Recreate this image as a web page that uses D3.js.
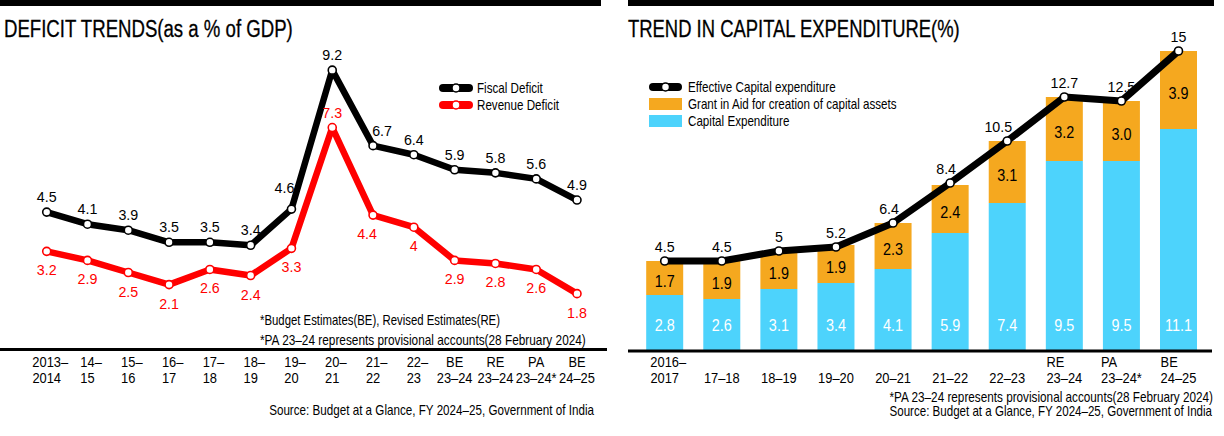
<!DOCTYPE html>
<html><head><meta charset="utf-8">
<script src="https://cdn.jsdelivr.net/npm/d3@7"></script>
<style>
body{margin:0;background:#fff}
svg{display:block}
text{font-family:'Liberation Sans',Arial,'DejaVu Sans',sans-serif}
</style>
</head><body>
<svg id="c" width="1224" height="436"></svg>
<script>
// ---------- DATA ----------
const deficitYears = ["2013–\n2014","14–\n15","15–\n16","16–\n17","17–\n18","18–\n19","19–\n20","20–\n21","21–\n22","22–\n23","BE\n23–24","RE\n23–24","PA\n23–24*","BE\n24–25"];
const fiscalDeficit  = [4.5,4.1,3.9,3.5,3.5,3.4,4.6,9.2,6.7,6.4,5.9,5.8,5.6,4.9];
const revenueDeficit = [3.2,2.9,2.5,2.1,2.6,2.4,3.3,7.3,4.4,4.0,2.9,2.8,2.6,1.8];

const capexYears = ["2016–\n2017","17–18","18–19","19–20","20–21","21–22","22–23","RE\n23–24","PA\n23–24*","BE\n24–25"];
const capitalExpenditure = [2.8,2.6,3.1,3.4,4.1,5.9,7.4,9.5,9.5,11.1];
const grantInAid         = [1.7,1.9,1.9,1.9,2.3,2.4,3.1,3.2,3.0,3.9];
const effectiveCapex     = [4.5,4.5,5,5.2,6.4,8.4,10.5,12.7,12.5,15];

const leftTitle = "DEFICIT TRENDS(as a % of GDP)";
const rightTitle = "TREND IN CAPITAL EXPENDITURE(%)";
const leftNotes = ["*Budget Estimates(BE), Revised Estimates(RE)","*PA 23–24 represents provisional accounts(28 February 2024)"];
const rightNote = "*PA 23–24 represents provisional accounts(28 February 2024)";
const sourceText = "Source: Budget at a Glance, FY 2024–25, Government of India";

// ---------- STYLE ----------
const RED = "#ff0000", ORANGE = "#f5a81f", BLUE = "#4dd3fc";
const svg = d3.select("#c");

// text helper: condensed look via horizontal scaling
function T(x, y, s, o = {}) {
  const g = svg.append("g");
  const t = g.append("text").attr("font-size", o.size ?? 15).attr("fill", o.fill ?? "#000")
    .attr("text-anchor", o.anchor ?? "start").attr("dy", o.dy ?? null).text(s);
  const nat = t.node().getComputedTextLength();
  const sx = o.width ? o.width / nat : (o.sx ?? 0.85);
  g.attr("transform", `translate(${x},${y}) scale(${sx},1)`);
  return { node: t, width: nat * sx };
}

// ---------- LEFT CHART ----------
const xL = d3.scalePoint().domain(deficitYears).range([46.7, 577]);
const yL = d3.scaleLinear().domain([0, 9.2]).range([348, 348 - 9.2*30.2]);

svg.append("rect").attr("x",0).attr("y",0).attr("width",601).attr("height",6).attr("fill","#000");
T(4, 37, leftTitle, {size:23, width:289}).node.attr("stroke","#000").attr("stroke-width",0.3);

svg.append("line").attr("x1",0).attr("x2",607).attr("y1",349.5).attr("y2",349.5).attr("stroke","#000").attr("stroke-width",3);

const line = d3.line();
function drawSeries(vals, cats, xs, ys, color, width) {
  const pts = vals.map((v,i)=>[xs(cats[i]), ys(v)]);
  svg.append("path").attr("d", line(pts)).attr("fill","none").attr("stroke",color)
     .attr("stroke-width",width).attr("stroke-linejoin","round").attr("stroke-linecap","round");
  svg.append("g").selectAll("circle").data(pts).join("circle")
     .attr("cx",d=>d[0]).attr("cy",d=>d[1]).attr("r",4).attr("fill","#fff")
     .attr("stroke",color).attr("stroke-width",1.6);
  return pts;
}
drawSeries(fiscalDeficit, deficitYears, xL, yL, "#000", 6.5);
drawSeries(revenueDeficit, deficitYears, xL, yL, RED, 6.5);

const fdOff = {"21–\n22": [9,0], "19–\n20": [-7,-6]};
fiscalDeficit.forEach((d,i)=>{
  const c = deficitYears[i], o = fdOff[c] || [0,0];
  T(xL(c)+o[0], yL(d)-10+o[1], String(d), {size:15.5, sx:0.92, anchor:"middle"});
});
const rdOff = {"21–\n22": [-6,0]};
const rdMax = d3.max(revenueDeficit);
revenueDeficit.forEach((d,i)=>{
  const c = deficitYears[i], o = rdOff[c] || [0,0];
  T(xL(c)+o[0], (d === rdMax ? yL(d)-10 : yL(d)+24)+o[1], String(d), {size:15.5, sx:0.92, anchor:"middle", fill:RED});
});

// left ticks
deficitYears.forEach(c=>{
  const [l1,l2] = c.split("\n");
  const x = xL(c);
  const t2 = T(x, 383, l2, {size:15, sx:0.86, anchor:"middle"});
  if (/^\d/.test(l1)) T(x - t2.width/2, 367, l1, {size:15, sx:0.86});
  else T(x, 367, l1, {size:15, sx:0.86, anchor:"middle"});
});

// left legend
[["Fiscal Deficit","#000",88],["Revenue Deficit",RED,105]].forEach(([lab,col,y])=>{
  svg.append("line").attr("x1",443).attr("x2",469).attr("y1",y).attr("y2",y).attr("stroke",col).attr("stroke-width",8).attr("stroke-linecap","round");
  svg.append("circle").attr("cx",456).attr("cy",y).attr("r",4).attr("fill","#fff").attr("stroke",col).attr("stroke-width",1.5);
  T(477, y, lab, {size:14, sx:0.83, dy:"0.35em"});
});

T(260, 320, leftNotes[0], {size:14, width:240, dy:"0.35em"});
T(260, 340, leftNotes[1], {size:14, width:326, dy:"0.35em"});
T(594, 410, sourceText, {size:14, width:325, dy:"0.35em", anchor:"end"});

// ---------- RIGHT CHART ----------
const xR = d3.scalePoint().domain(capexYears).range([664.7, 1178.5]);
const yR = d3.scaleLinear().domain([0, 15]).range([351, 351 - 15*20]);
const BW = 37;

svg.append("rect").attr("x",628).attr("y",0).attr("width",586).attr("height",6).attr("fill","#000");
T(628, 37, rightTitle, {size:23, width:332}).node.attr("stroke","#000").attr("stroke-width",0.3);

capexYears.forEach((c,i)=>{
  const x = xR(c) - BW/2;
  const cap = capitalExpenditure[i], gr = grantInAid[i];
  svg.append("rect").attr("x",x).attr("width",BW).attr("y",yR(cap)).attr("height",yR(0)-yR(cap)).attr("fill",BLUE);
  svg.append("rect").attr("x",x).attr("width",BW).attr("y",yR(cap+gr)).attr("height",yR(cap)-yR(cap+gr)).attr("fill",ORANGE);
  T(xR(c), yR(0)-26, d3.format(".1f")(cap), {size:16, sx:0.9, anchor:"middle", fill:"#fff", dy:"0.35em"});
  T(xR(c), (yR(cap)+yR(cap+gr))/2 + 3, d3.format(".1f")(gr), {size:16, sx:0.9, anchor:"middle", dy:"0.35em"});
});

svg.append("line").attr("x1",628).attr("x2",1212).attr("y1",351).attr("y2",351).attr("stroke","#000").attr("stroke-width",3);

drawSeries(effectiveCapex, capexYears, xR, yR, "#000", 7);
const ecOff = {"20–21": -4, "21–22": -4, "22–23": -9};
effectiveCapex.forEach((d,i)=>{
  const c = capexYears[i];
  T(xR(c) + (ecOff[c]||0), yR(d)-9, String(d), {size:15.5, sx:0.92, anchor:"middle"});
});

// right ticks
capexYears.forEach(c=>{
  const parts = c.split("\n");
  const l2 = parts[parts.length-1];
  const x = xR(c);
  const t2 = T(x, 383, l2, {size:15, sx:0.86, anchor:"middle"});
  if (parts.length>1) T(x - t2.width/2, 367, parts[0], {size:15, sx:0.86});
});

// right legend
svg.append("line").attr("x1",653).attr("x2",678).attr("y1",87).attr("y2",87).attr("stroke","#000").attr("stroke-width",8).attr("stroke-linecap","round");
svg.append("circle").attr("cx",665.5).attr("cy",87).attr("r",4).attr("fill","#fff").attr("stroke","#000").attr("stroke-width",1.5);
T(688, 87, "Effective Capital expenditure", {size:14, sx:0.83, dy:"0.35em"});
svg.append("rect").attr("x",649).attr("y",98).attr("width",33).attr("height",12).attr("fill",ORANGE);
T(688, 104, "Grant in Aid for creation of capital assets", {size:14, sx:0.83, dy:"0.35em"});
svg.append("rect").attr("x",649).attr("y",115).attr("width",33).attr("height",12).attr("fill",BLUE);
T(688, 121, "Capital Expenditure", {size:14, sx:0.83, dy:"0.35em"});

T(1213, 397, rightNote, {size:14, width:324, dy:"0.35em", anchor:"end"});
T(1212, 411, sourceText, {size:14, width:323, dy:"0.35em", anchor:"end"});
</script>
</body></html>
